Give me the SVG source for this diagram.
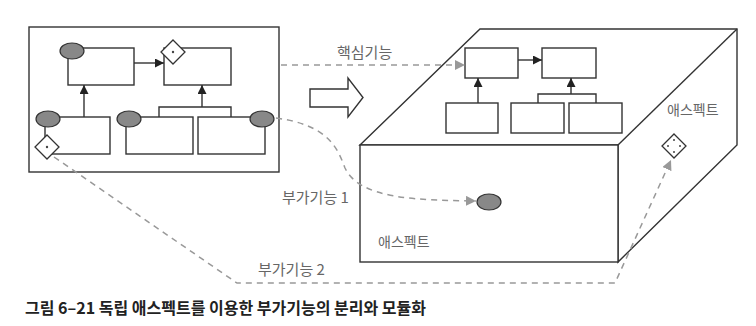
<svg xmlns="http://www.w3.org/2000/svg" width="756" height="326" viewBox="0 0 756 326">
<defs>
<style>
.box{fill:#fff;stroke:#333;stroke-width:1.4}
.ln{fill:none;stroke:#333;stroke-width:1.4}
.ell{fill:#888;stroke:#333;stroke-width:1.2}
.dia{fill:#fff;stroke:#333;stroke-width:1.3}
.dot{fill:#444}
.dash{fill:none;stroke:#999;stroke-width:1.5;stroke-dasharray:6,5}
.lbl{font-family:"Noto Sans CJK KR","Noto Sans",sans-serif;font-size:15px;fill:#666}
.lbs{font-family:"Noto Sans CJK KR","Noto Sans",sans-serif;font-size:14px;fill:#666}
.cap{font-family:"Noto Sans CJK KR","Noto Sans",sans-serif;font-size:16px;font-weight:bold;fill:#222}
</style>
<marker id="ah" viewBox="0 0 10 10" refX="10" refY="5" markerWidth="9" markerHeight="9" markerUnits="userSpaceOnUse" orient="auto"><path d="M0,0 L10,5 L0,10 Z" fill="#222"/></marker>
<marker id="gh" viewBox="0 0 10 10" refX="10" refY="5" markerWidth="10" markerHeight="10" markerUnits="userSpaceOnUse" orient="auto"><path d="M0,0 L10,5 L0,10 Z" fill="#999"/></marker>
</defs>
<rect width="756" height="326" fill="#fff"/>

<g id="left-module">
<rect class="box" x="29" y="27" width="250" height="145"/>
</g>
<g id="l-top-left"><rect class="box" x="68" y="48" width="66" height="37"/><ellipse class="ell" cx="72" cy="51" rx="12" ry="8"/></g>
<g id="l-top-right"><rect class="box" x="164" y="48" width="67" height="37"/><path class="dia" d="M173,40 L185,52 L173,64 L161,52 Z"/><circle class="dot" cx="173" cy="52" r="1.2"/></g>
<g id="l-bot-left"><rect class="box" x="45" y="117" width="65" height="37"/><ellipse class="ell" cx="48" cy="119" rx="12" ry="8"/><path class="dia" d="M47,135 L59,147 L47,159 L35,147 Z"/><circle class="dot" cx="47" cy="147" r="1.2"/></g>
<g id="l-bot-mid"><rect class="box" x="126" y="117" width="67" height="37"/><ellipse class="ell" cx="129" cy="119" rx="12" ry="8"/></g>
<g id="l-bot-right"><rect class="box" x="198" y="117" width="67" height="37"/><ellipse class="ell" cx="262" cy="119" rx="12" ry="8"/></g>

<g id="big-arrow"><path class="box" d="M310,89 L348,89 L348,78 L363,97.5 L348,117 L348,107 L310,107 Z"/></g>

<g id="aspect-box">
<path class="box" d="M360,145 L480,29 L737,29 L737,145 L618,262 L618,145 Z"/>
<path class="ln" d="M618,145 L737,29"/>
<rect class="box" x="360" y="145" width="258" height="117"/>
</g>
<g id="r-a"><rect class="box" x="465" y="48" width="53" height="30"/></g>
<g id="r-b"><rect class="box" x="542" y="48" width="54" height="30"/></g>
<g id="r-c"><rect class="box" x="446" y="103" width="52" height="30"/></g>
<g id="r-d"><rect class="box" x="511" y="103" width="53" height="30"/></g>
<g id="r-e"><rect class="box" x="569" y="103" width="53" height="30"/></g>
<g id="r-advice"><ellipse class="ell" cx="489" cy="202" rx="12" ry="8"/></g>
<g id="r-aspect"><path class="dia" d="M674,134 L686,146 L674,158 L662,146 Z"/><circle class="dot" cx="674" cy="140" r="1"/><circle class="dot" cx="680" cy="146" r="1"/><circle class="dot" cx="674" cy="152" r="1"/><circle class="dot" cx="668" cy="146" r="1"/></g>

<g id="connectors">
<path class="ln" d="M134,63 L164,63" marker-end="url(#ah)"/>
<path class="ln" d="M84,117 L84,85" marker-end="url(#ah)"/>
<path class="ln" d="M159,117 L159,107 L231,107 L231,117 M202,107 L202,85" marker-end="url(#ah)"/>
<path class="ln" d="M518,60 L542,60" marker-end="url(#ah)"/>
<path class="ln" d="M478,103 L478,78" marker-end="url(#ah)"/>
<path class="ln" d="M538,103 L538,94 L596,94 L596,103 M571,94 L571,78" marker-end="url(#ah)"/>
<path class="dash" d="M281,65 L465,65" marker-end="url(#gh)"/>
<path class="dash" d="M276,118 C330,125 338,150 345,168 C360,200 420,200 476,201" marker-end="url(#gh)"/>
<path class="dash" d="M54,157 L237,283 L615,283 L671,160" marker-end="url(#gh)"/>
</g>

<text class="lbl" x="337" y="58">핵심기능</text>
<text class="lbl" x="282" y="203">부가기능 1</text>
<text class="lbl" x="258" y="275">부가기능 2</text>
<text class="lbs" x="378" y="247">애스펙트</text>
<text class="lbs" x="667" y="115">애스펙트</text>
<text class="cap" x="25" y="314">그림 6–21 독립 애스펙트를 이용한 부가기능의 분리와 모듈화</text>
</svg>
